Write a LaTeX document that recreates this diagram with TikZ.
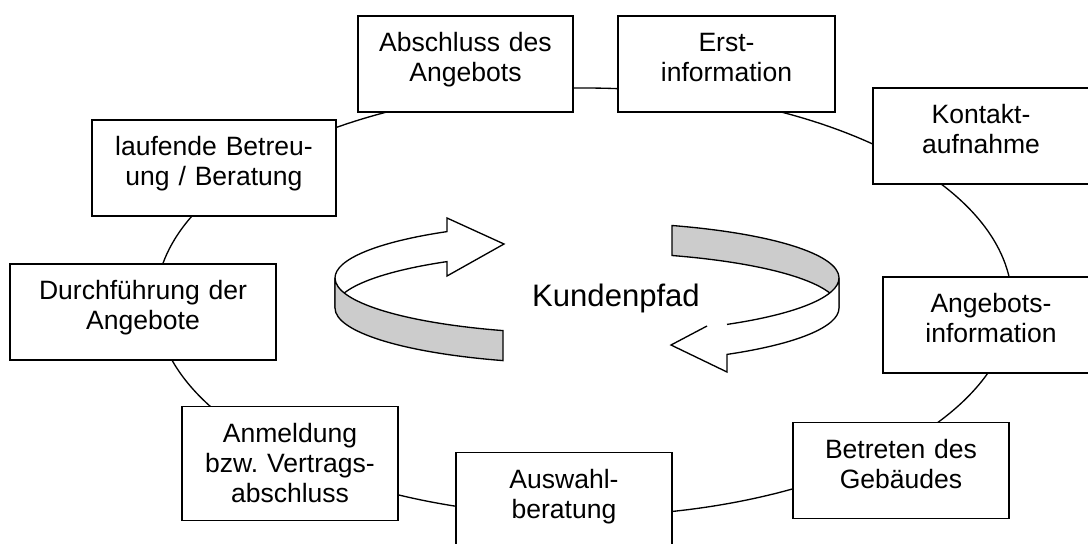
\documentclass[tikz,border=0pt]{standalone}
\usepackage{fontspec}
\setmainfont{Liberation Sans}
\begin{document}
\begin{tikzpicture}
[x=0.75pt, y=-0.75pt]
\tikzstyle{stage}=[draw, fill=white, line width=1.3pt, align=center, inner sep=0pt, anchor=north, text width=162pt, text height=27pt, text depth=45pt, font=\fontsize{19.9}{22.5}\selectfont]
\tikzstyle{ribbon}=[draw, line width=1pt, line join=miter]
\useasboundingbox (0,0) rectangle (1088,543);

% ring behind the stages
\coordinate (mid) at (584,302);
\draw[line width=1pt] (mid) ellipse [x radius=428, y radius=214];

\node[stage, text width=161.25pt]	(abschluss)	at (465.5,15)	{Abschluss des\\Angebots};
\node[stage, text width=162.75pt]	(erst)		at (726.5,15)	{Erst-\\information};
\node[stage]				(kontakt)	at (981,87)	{Kontakt-\\aufnahme};
\node[stage]				(angebot)	at (991,276)	{Angebots-\\information};
\node[stage]				(betreten)	at (901,421.7)	{Betreten des\\Gebäudes};
\node[stage]				(auswahl)	at (564,451.7)	{Auswahl-\\beratung};
\node[stage, text depth=58.5pt]		(anmeldung)	at (290,405.7)	{Anmeldung\\bzw.\ Vertrags-\\abschluss};
\node[stage, text width=199.5pt]	(durch)		at (143,263)	{Durchführung der\\Angebote};
\node[stage, text width=183pt]		(laufend)	at (214,119)	{laufende Betreu-\\ung / Beratung};

% left half of the turning arrow
\draw[ribbon, fill=white] (335,278) arc[start angle=180, end angle=236.25, x radius=252, y radius=55.8]
	-- (447,218) -- (504,244) -- (447,276) -- (447,261.6)
	arc[start angle=236.25, end angle=180, x radius=252, y radius=55.8] -- cycle;
\draw[ribbon, fill=gray!40] (335,278) arc[start angle=180, end angle=109.47, x radius=252, y radius=55.8]
	-- ++(0,30) arc[start angle=109.47, end angle=180, x radius=252, y radius=55.8] -- cycle;

% right half of the turning arrow
\draw[ribbon, fill=gray!40] (672,225.5) arc[start angle=289.7, end angle=360, x radius=252, y radius=55.8]
	-- ++(0,30) arc[start angle=360, end angle=289.7, x radius=252, y radius=55.8] -- cycle;
\fill[white] (839,278) arc[start angle=0, end angle=56.25, x radius=252, y radius=55.8]
	-- (707,326) -- (671,345) -- (727,372) -- (727,354.4)
	arc[start angle=56.25, end angle=0, x radius=252, y radius=55.8] -- cycle;
\draw[ribbon] (707,326) -- (671,345) -- (727,372) -- (727,354.4)
	arc[start angle=56.25, end angle=0, x radius=252, y radius=55.8]
	-- (839,278) arc[start angle=0, end angle=56.25, x radius=252, y radius=55.8];

\node[anchor=base, inner sep=0pt, font=\fontsize{23.3}{28}\selectfont] (pfad) at (616,306) {Kundenpfad};
\end{tikzpicture}
\end{document}
